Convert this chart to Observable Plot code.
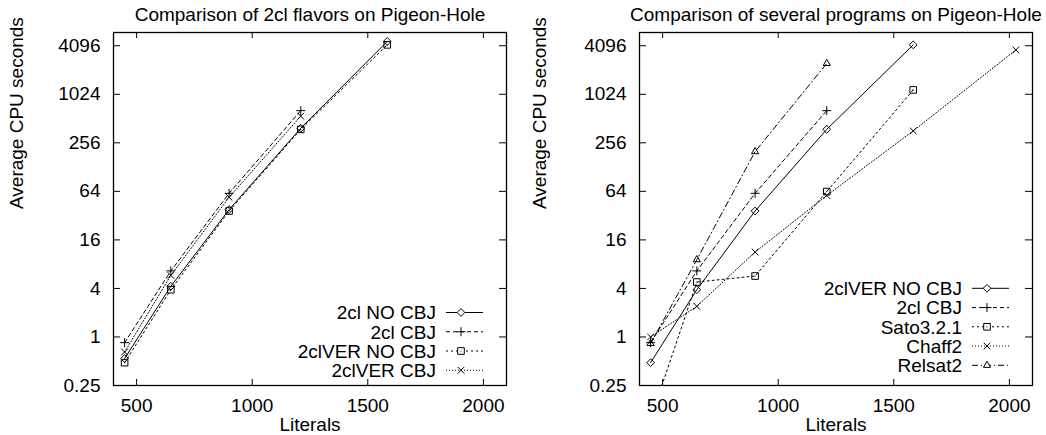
<!DOCTYPE html>
<html><head><meta charset="utf-8">
<script src="https://cdn.jsdelivr.net/npm/d3@7"></script>
<script src="https://cdn.jsdelivr.net/npm/@observablehq/plot@0.6"></script>
<style>
body{margin:0;background:#fff;}
#wrap{display:flex;width:1046px;height:435px;overflow:hidden;}
</style></head><body><div id="wrap"></div>
<script>
// ---- data ----
const literals = [448, 648, 900, 1210, 1584, 2028];
const cl2NoCbj    = [0.54, 4.25, 38, 388, 4630];
const cl2Cbj      = [0.85, 6.6, 60.5, 642];
const cl2verNoCbj = [0.48, 3.86, 36.5, 376, 4200];
const cl2verCbj   = [0.65, 5.8, 54, 548];
const sato321     = [0.096, 4.8, 5.7, 63.6, 1160];
const chaff2      = [1.0, 2.4, 11.3, 56.8, 360, 3630];
const relsat2     = [0.83, 9.1, 199, 2470];
const xTicks = [500, 1000, 1500, 2000];
const yTicks = [0.25, 1, 4, 16, 64, 256, 1024, 4096];
const leftTitle = "Comparison of 2cl flavors on Pigeon-Hole";
const rightTitle = "Comparison of several programs on Pigeon-Hole";
const xLabel = "Literals";
const yLabel = "Average CPU seconds";
const leftNames = ["2cl NO CBJ", "2cl CBJ", "2clVER NO CBJ", "2clVER CBJ"];
const leftValues = [cl2NoCbj, cl2Cbj, cl2verNoCbj, cl2verCbj];
const rightNames = ["2clVER NO CBJ", "2cl CBJ", "Sato3.2.1", "Chaff2", "Relsat2"];
const rightValues = [cl2verNoCbj, cl2Cbj, sato321, chaff2, relsat2];

// ---- styles (gnuplot line types 1..5) ----
const lineTypes = [
  {dash: null,      symbol: "diamond2",  r: 3.5},
  {dash: "4,3",     symbol: "plus",      r: 3.0},
  {dash: "2,3",     symbol: "square2",   r: 4.2},
  {dash: "1,2",     symbol: "times",     r: 3.1},
  {dash: "6,3,1,3", symbol: "triangle2", r: 3.4}
];
const d3Symbols = {diamond2: d3.symbolDiamond2, plus: d3.symbolPlus, square2: d3.symbolSquare2, times: d3.symbolTimes, triangle2: d3.symbolTriangle2};
const FONT = "'Liberation Sans', Arial, Helvetica, sans-serif";

function makeChart({title, names, values, width, marginLeft, marginRight, legendY0}) {
  const height = 435, marginTop = 32, marginBottom = 50;
  const fw = width - marginLeft - marginRight, fh = height - marginTop - marginBottom;
  const marks = [
    Plot.ruleY(yTicks, {y: d => d, insetRight: fw - 7, stroke: "#000"}),
    Plot.ruleY(yTicks, {y: d => d, insetLeft: fw - 7, stroke: "#000"}),
    Plot.ruleX(xTicks, {x: d => d, insetTop: fh - 6, stroke: "#000"}),
    Plot.ruleX(xTicks, {x: d => d, insetBottom: fh - 6, stroke: "#000"}),
    Plot.axisY(yTicks, {tickSize: 0, tickPadding: 13, label: null, tickFormat: d => String(d)}),
    Plot.axisX(xTicks, {tickSize: 0, tickPadding: 13, label: null, tickFormat: d => String(d)})
  ];
  names.forEach((name, i) => {
    const lt = lineTypes[i];
    const rows = values[i].map((v, j) => ({x: literals[j], y: v}));
    marks.push(Plot.line(rows, {x: "x", y: "y", stroke: "#000", strokeWidth: 1, strokeDasharray: lt.dash, clip: true}));
    marks.push(Plot.dot(rows, {x: "x", y: "y", symbol: lt.symbol, r: lt.r, stroke: "#000", strokeWidth: 1, fill: "none", clip: true}));
    if (lt.symbol === "square2") marks.push(Plot.dot(rows, {x: "x", y: "y", r: 0.6, fill: "#000", clip: true}));
  });
  marks.push(Plot.frame({stroke: "#000", strokeWidth: 1.3}));
  marks.push(Plot.text([title], {text: d => d, frameAnchor: "top", dy: -18, lineAnchor: "middle", fontSize: 19}));
  marks.push(Plot.text([xLabel], {text: d => d, frameAnchor: "bottom", dy: 39, lineAnchor: "middle", fontSize: 19}));
  marks.push(Plot.text([yLabel], {text: d => d, frameAnchor: "left", dx: 16 - marginLeft, rotate: -90, lineAnchor: "middle", fontSize: 19}));

  const svg = Plot.plot({
    width, height, marginLeft, marginRight, marginTop, marginBottom,
    style: {fontFamily: FONT, fontSize: "19px", color: "#000", background: "#fff", overflow: "visible"},
    x: {domain: [400, 2100]},
    y: {type: "log", base: 2, domain: [0.25, 5980]},
    marks
  });

  // legend (gnuplot key, bottom right)
  const fr = width - marginRight;
  const g = d3.select(svg).append("g");
  names.forEach((name, i) => {
    const lt = lineTypes[i];
    const y = legendY0 + i * 19.25;
    g.append("text").attr("x", fr - 70).attr("y", y + 6.8).attr("text-anchor", "end")
      .attr("font-family", FONT).attr("font-size", 19).attr("fill", "#000").text(name);
    const line = g.append("line").attr("x1", fr - 60).attr("x2", fr - 23).attr("y1", y).attr("y2", y)
      .attr("stroke", "#000").attr("stroke-width", 1);
    if (lt.dash) line.attr("stroke-dasharray", lt.dash);
    g.append("path").attr("transform", `translate(${fr - 45},${y})`)
      .attr("d", d3.symbol(d3Symbols[lt.symbol], Math.PI * lt.r * lt.r)())
      .attr("fill", "#fff").attr("stroke", "#000").attr("stroke-width", 1);
    if (lt.symbol === "square2") g.append("circle").attr("cx", fr - 45).attr("cy", y).attr("r", 0.6).attr("fill", "#000");
  });
  return svg;
}

const wrap = document.getElementById("wrap");
wrap.appendChild(makeChart({title: leftTitle, names: leftNames, values: leftValues, width: 523, marginLeft: 113, marginRight: 17, legendY0: 312.5}));
wrap.appendChild(makeChart({title: rightTitle, names: rightNames, values: rightValues, width: 523, marginLeft: 116, marginRight: 14, legendY0: 288.3}));
</script>
</body></html>
